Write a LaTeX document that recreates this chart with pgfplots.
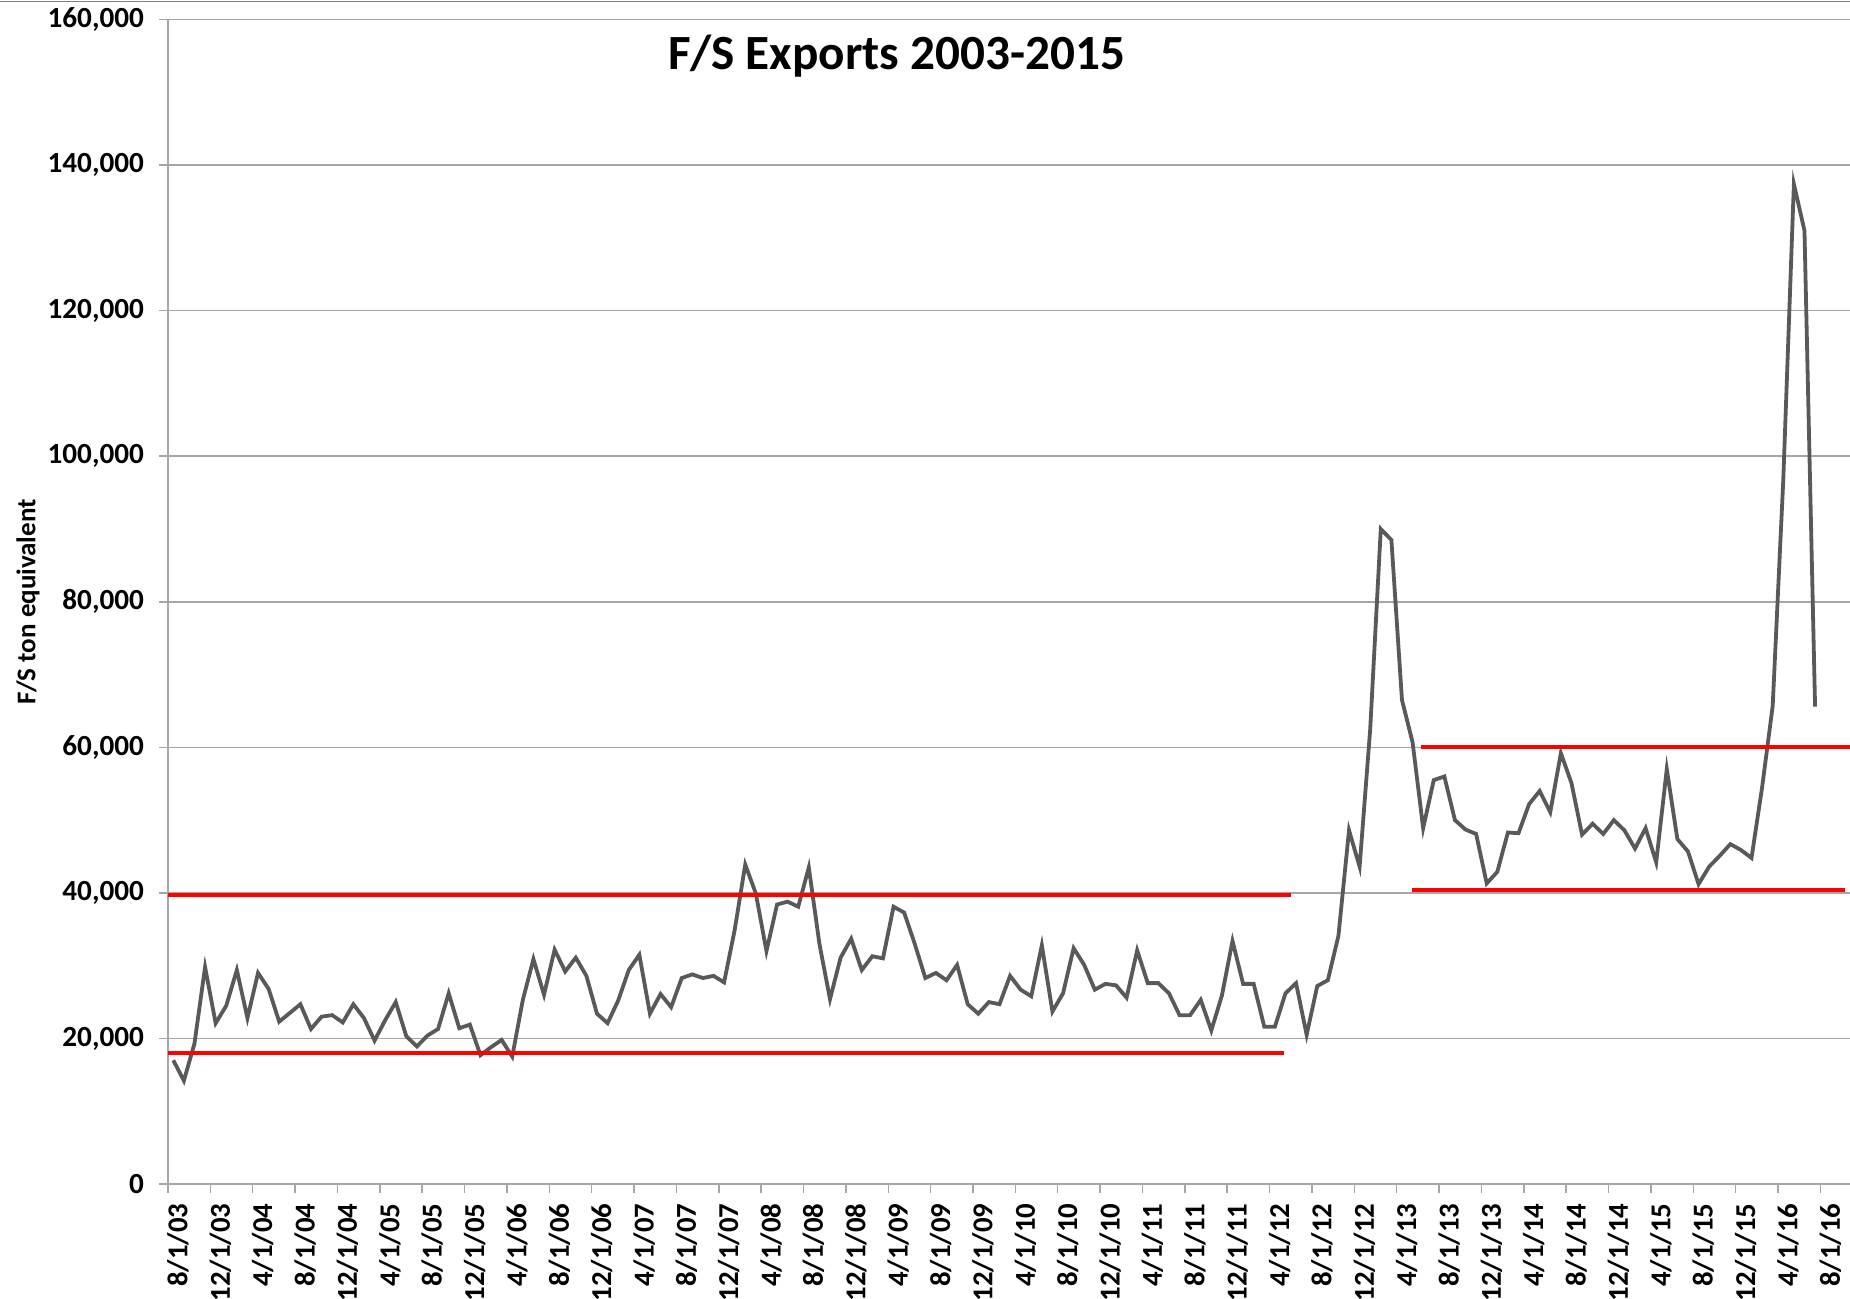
\documentclass[border=0pt]{standalone}
\usepackage{fontspec}
\setmainfont{Carlito}
\usepackage{pgfplots}
\usepackage{pgfplotstable}
\pgfplotsset{compat=1.18}
\definecolor{linegray}{RGB}{89,89,89}
\definecolor{gridgray}{RGB}{166,166,166}
\pgfplotstableread{
i v
0 17000
1 14200
2 19300
3 29800
4 22100
5 24500
6 29400
7 22800
8 29000
9 26800
10 22300
11 23500
12 24700
13 21300
14 23000
15 23200
16 22200
17 24700
18 22800
19 19700
20 22500
21 25000
22 20300
23 18900
24 20400
25 21300
26 26200
27 21400
28 21900
29 17700
30 18800
31 19800
32 17500
33 25300
34 30900
35 26000
36 32200
37 29200
38 31100
39 28600
40 23400
41 22100
42 25200
43 29400
44 31500
45 23400
46 26100
47 24300
48 28300
49 28800
50 28300
51 28600
52 27700
53 34900
54 43900
55 39900
56 32000
57 38400
58 38800
59 38100
60 43500
61 33000
62 25400
63 31100
64 33700
65 29400
66 31300
67 31000
68 38100
69 37300
70 33000
71 28300
72 29000
73 28000
74 30100
75 24700
76 23400
77 25000
78 24700
79 28600
80 26700
81 25800
82 32800
83 23700
84 26200
85 32400
86 30100
87 26700
88 27500
89 27300
90 25600
91 32100
92 27600
93 27600
94 26200
95 23200
96 23200
97 25300
98 21100
99 25900
100 33400
101 27500
102 27500
103 21600
104 21600
105 26200
106 27600
107 20500
108 27200
109 28000
110 34100
111 48600
112 43600
113 62500
114 90000
115 88500
116 66500
117 60700
118 48900
119 55500
120 56000
121 50000
122 48700
123 48100
124 41300
125 42900
126 48300
127 48200
128 52200
129 54000
130 51100
131 59200
132 55100
133 48000
134 49500
135 48100
136 50000
137 48600
138 46100
139 48900
140 44200
141 57000
142 47400
143 45700
144 41200
145 43600
146 45100
147 46700
148 45900
149 44800
150 54500
151 65700
152 96800
153 137400
154 131000
155 65600
}\exports
\begin{document}
\begin{tikzpicture}[x=1pt,y=1pt]
\begin{axis}[
  at={(84pt,57.5pt)}, anchor=south west,
  scale only axis, width=841pt, height=582.2pt,
  xmin=0, xmax=158.8, ymin=0, ymax=160000,
  axis lines=left,
  axis line style={gridgray, line width=0.75pt, -},
  ytick={0,20000,...,160000},
  ymajorgrids,
  major grid style={gridgray, line width=0.75pt},
  xtick={0,4,...,156},
  xticklabels={8/1/03,12/1/03,4/1/04,8/1/04,12/1/04,4/1/05,8/1/05,12/1/05,4/1/06,8/1/06,12/1/06,4/1/07,8/1/07,12/1/07,4/1/08,8/1/08,12/1/08,4/1/09,8/1/09,12/1/09,4/1/10,8/1/10,12/1/10,4/1/11,8/1/11,12/1/11,4/1/12,8/1/12,12/1/12,4/1/13,8/1/13,12/1/13,4/1/14,8/1/14,12/1/14,4/1/15,8/1/15,12/1/15,4/1/16,8/1/16},
  tick align=outside,
  major tick length=4.5pt,
  tick style={gridgray, line width=0.75pt},
  scaled y ticks=false,
  yticklabel={\pgfmathprintnumber[fixed, precision=0, 1000 sep={,}, assume math mode=true]{\tick}},
  yticklabel style={font=\fontsize{14.6}{17}\selectfont\bfseries, anchor=east, xshift=-4pt},
  xticklabel style={font=\fontsize{14.4}{17}\selectfont\bfseries, xshift=5pt, yshift=-1.75pt, rotate=90, anchor=east},
  ylabel={F/S ton equivalent},
  every axis y label/.style={at={(rel axis cs:0,0.5)}, xshift=-70pt, rotate=90, anchor=center, font=\fontsize{13.5}{16}\selectfont\bfseries},
]
\addplot[linegray, line width=1.9pt] table[x expr=\thisrow{i}+0.5, y=v] {\exports};
\addplot[red, line width=2.1pt] coordinates {(0,39700) (106,39700)};
\addplot[red, line width=2.1pt] coordinates {(0,18000) (105.4,18000)};
\addplot[red, line width=2.1pt] coordinates {(118.3,60000) (158.8,60000)};
\addplot[red, line width=2.1pt] coordinates {(117.4,40450) (158.3,40450)};
\end{axis}
\node[anchor=base, font=\fontsize{24.6}{29}\selectfont\bfseries] at (448.5,614.5) {F/S Exports 2003-2015};
\draw[gray, line width=0.75pt] (0,648.8) -- (925,648.8);
\pgfresetboundingbox
\path[use as bounding box] (0,0) rectangle (925,649.5);
\end{tikzpicture}
\end{document}
